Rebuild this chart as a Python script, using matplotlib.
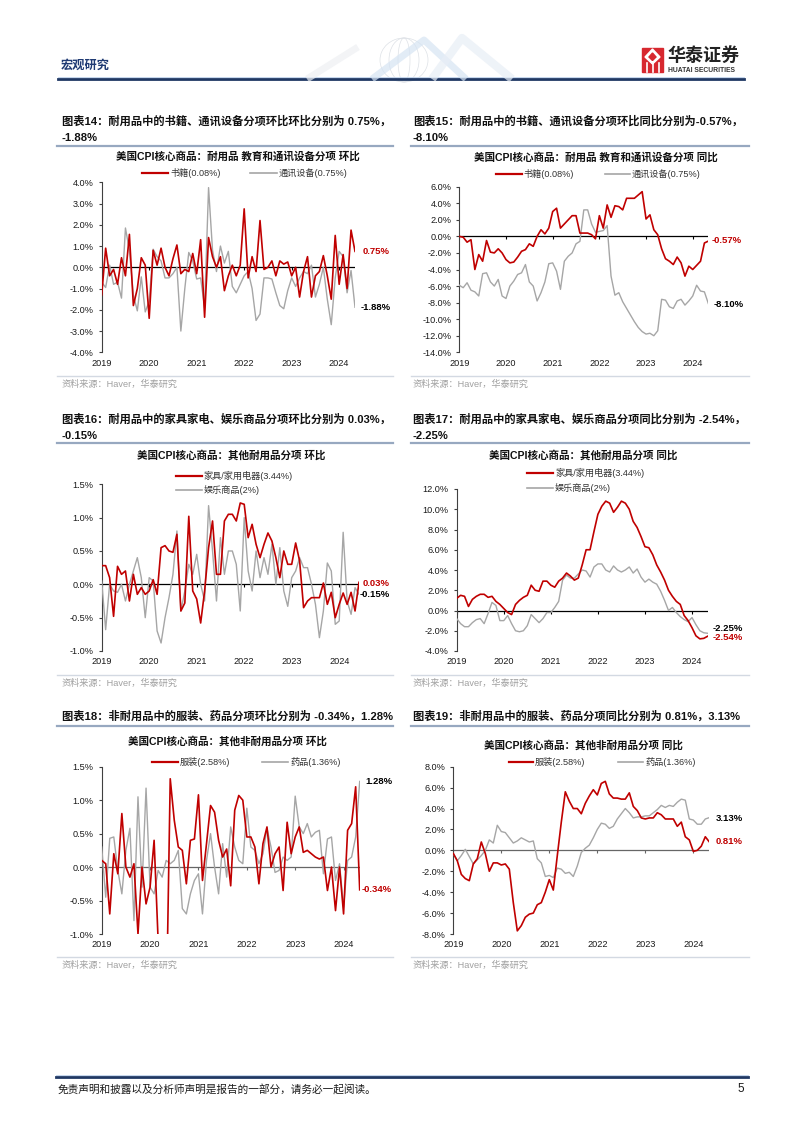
import numpy as np
import matplotlib.pyplot as plt
import matplotlib.transforms as mtransforms
from matplotlib.lines import Line2D
from matplotlib.patches import Rectangle, Polygon, Arc

# monthly readings from Jan 2019 onward, in percent
years = ['2019', '2020', '2021', '2022', '2023', '2024']

book_mom = [-1.3, 0.9, -0.4, -0.1, -0.8, 0.45, -0.4, 1.55, -1.8, -1.0, 0.45, 0.1,
            -2.4, 0.8, 0.1, 0.9, 0.0, -0.4, 0.4, 1.05, -0.3, -0.1, -0.2, 0.65,
            -0.3, 1.3, -2.35, 1.4, 0.5, 0.0, 0.5, -1.1, -0.4, 0.1, -0.4, 0.1,
            2.75, -0.5, 0.5, -0.2, 2.2, -0.1, 0.0, 0.3, -0.4, 0.3, 0.15, 0.25,
            -0.4, 0.0, -1.4, -0.2, 0.5, -1.4, -0.4, -0.2, 0.55, -0.4, -1.5, 1.5,
            -0.8, 0.6, -1.0, 1.75, 0.75]
comm_mom = [-0.7, -0.95, 0.1, -0.8, -0.7, -1.45, 1.85, 0.8, -1.3, -2.05, -0.45, -2.1,
            -1.6, 0.85, 0.5, 0.3, -0.5, -0.5, -0.3, 0.0, -3.0, -1.0, 0.7, 0.3,
            -0.55, -0.5, -1.9, 3.75, 0.8, -0.2, 1.0, 0.2, 0.75, -0.9, -1.2, -0.8,
            -0.4, -0.2, -1.0, -2.5, -2.2, -0.5, -0.5, -0.55, -1.2, -1.8, -1.95, -1.1,
            -0.5, -0.9, -0.5, -0.2, -0.3, 0.1, -1.4, -0.8, 0.0, -1.5, -2.7, -0.5,
            0.75, 0.5, -1.2, -0.15, -1.88]

book_yoy = [0.0, -0.1, -0.7, -0.4, -4.0, -2.2, -3.0, -0.5, -1.9, -2.0, -1.5, -2.0,
            -2.8, -3.2, -3.1, -2.5, -1.8, -1.6, -0.9, -1.2, 0.0, 0.8, 0.3, 1.0,
            3.0, 3.4, 1.0, 1.5, 2.0, 2.5, 2.5, 0.4, 0.4, 0.4, 0.2, -0.3,
            2.5, 1.0, 3.8, 2.3, 3.7, 3.6, 3.2, 4.6, 4.6, 4.6, 5.0, 5.4,
            2.1, 2.6, 0.8, 0.2, -1.5, -2.7, -3.0, -3.4, -2.5, -3.2, -4.8, -3.6,
            -4.0, -3.5, -3.0, -0.8, -0.57]
comm_yoy = [-5.9, -6.2, -5.6, -6.5, -6.7, -7.2, -4.5, -4.4, -5.5, -6.0, -5.2, -7.2,
            -7.5, -6.0, -5.4, -4.6, -4.4, -3.4, -5.5, -6.0, -7.8, -6.8, -5.5, -3.3,
            -3.2, -4.2, -6.4, -3.0, -2.4, -2.0, -0.9, -0.6, 3.2, 3.2, 1.5, 0.5,
            0.6, 0.7, 1.3, -4.8, -7.1, -6.8, -7.9, -8.7, -9.5, -10.3, -11.0, -11.5,
            -11.8, -11.7, -12.0, -11.4, -7.6, -7.7, -8.5, -8.7, -7.8, -7.6, -8.3, -7.8,
            -7.2, -5.9, -6.6, -6.7, -8.10]

furn_mom = [0.28, 0.28, 0.1, -0.48, 0.27, 0.15, 0.2, -0.25, 0.15, -0.15, -0.05, -0.15,
            -0.1, 0.07, -0.15, 0.55, 0.58, 0.5, 0.48, 0.75, -0.4, -0.28, 1.02, -0.1,
            -0.22, -0.58, -0.1, 0.55, 0.95, 0.15, 0.15, 0.95, 1.05, 1.05, 0.95, 1.22,
            1.2, 0.7, 0.9, 0.6, 0.4, 0.6, 0.77, 0.65, 0.4, 0.1, 0.5, 0.3,
            0.3, 0.62, 0.35, -0.35, -0.25, -0.2, -0.2, -0.2, 0.02, -0.3, -0.12, -0.5,
            -0.3, -0.13, -0.3, -0.12, -0.4, 0.03]
recr_mom = [0.05, -0.68, 0.0, -0.1, -0.12, 0.0, -0.25, 0.0, 0.2, 0.4, 0.1, -0.5,
            0.1, 0.05, -0.7, -0.88, -0.5, -0.2, 0.15, 0.8, -0.4, -0.1, 0.3, 0.15,
            0.45, 0.0, -0.25, 1.18, 0.5, -0.25, 0.7, 0.15, 0.5, 0.5, 0.3, -0.4,
            1.0, 0.2, -0.1, 0.5, 0.1, 0.4, 0.15, 0.6, 0.0, 0.55, -0.1, -0.33,
            0.1, 0.2, 0.4, 0.25, 0.25, 0.0, -0.3, -0.8, -0.4, 0.32, 0.2, -0.6,
            -0.55, 0.78, -0.25, -0.45, -0.05, -0.15]

furn_yoy = [1.2, 1.5, 1.4, 0.4, 1.1, 1.4, 1.6, 1.6, 1.3, 1.4, 0.9, 0.6,
            0.2, -0.2, -0.4, 0.6, 1.0, 1.3, 1.5, 2.5, 2.0, 1.9, 2.9, 2.9,
            2.5, 2.3, 2.9, 3.2, 3.7, 3.4, 3.0, 3.2, 4.5, 6.0, 6.0, 7.8,
            9.5, 10.3, 10.8, 10.6, 9.7, 10.2, 10.8, 10.6, 10.0, 8.8, 8.2, 7.3,
            6.3, 6.2, 5.5, 4.5, 3.8, 3.0, 2.0, 1.4, 0.9, 0.6, -0.5, -1.0,
            -1.7, -2.5, -2.8, -2.75, -2.54]
recr_yoy = [-0.8, -1.3, -1.6, -1.6, -1.2, -0.9, -0.8, -1.3, -0.3, 0.8, 0.5, -1.0,
            -1.0, -0.5, -1.3, -2.0, -2.1, -2.0, -1.5, -0.4, -0.8, -1.2, -0.8, -0.2,
            -0.2, 0.3, 0.9, 3.0, 3.5, 3.2, 3.2, 3.6, 4.0, 3.9, 3.3, 4.3,
            4.6, 4.6, 4.0, 3.8, 4.4, 4.0, 3.8, 4.0, 4.3, 3.7, 4.1, 3.3,
            2.8, 3.1, 2.8, 2.6, 1.9, 1.0, 0.0, 0.3, -0.2, -0.6, -0.9, -1.1,
            -0.7, -1.4, -2.0, -2.2, -2.25]

appa_mom = [0.1, 0.05, -0.7, 0.2, -0.1, 0.8, 0.0, -0.15, 0.05, -1.0, 0.0, -0.55,
            -0.3, 0.4, -1.1, -4.7, -2.3, 1.32, 0.7, 0.3, 0.25, -0.25, 0.4, 0.42,
            1.08, -0.2, 0.35, 0.92, 0.82, 0.4, 0.15, 0.27, -0.28, 0.85, 1.07, 1.0,
            0.45, 0.45, 0.3, -0.25, 0.35, 0.6, 0.0, 0.2, 0.3, -0.35, 0.67, 0.2,
            0.45, 0.6, 0.22, 0.25, 0.2, 0.15, 0.12, 0.15, -0.35, 0.0, -0.65, 0.0,
            -0.7, 0.55, 0.65, 1.2, -0.34]
drug_mom = [0.3, -0.45, 0.43, 0.45, -0.05, -0.4, 0.25, 0.58, -0.8, 1.05, -0.3, 1.18,
            -0.3, -0.4, -0.05, -0.15, 0.1, 0.05, 0.1, 0.25, -0.62, -0.7, -0.4, -0.2,
            -0.1, -0.7, 0.1, 0.5, 0.0, -0.4, 0.35, -0.15, 0.6, 0.3, 0.1, 0.05,
            0.88, 0.3, 0.25, 0.05, 0.2, 0.58, 0.3, -0.08, -0.05, 0.15, 0.1, 0.15,
            1.06, 0.6, 0.5, 0.65, 0.45, 0.52, 0.55, -0.1, 0.42, 0.45, -0.2, 0.05,
            -0.6, 0.1, 0.15, 0.45, 1.28]

appa_yoy = [-0.3, -1.0, -2.3, -2.7, -2.9, -1.3, -0.8, 0.8, -0.3, -2.0, -1.2, -1.2,
            -1.4, -1.3, -1.8, -5.0, -7.7, -7.2, -6.4, -6.1, -6.0, -5.2, -5.0, -4.0,
            -2.8, -3.8, -0.5, 2.7, 5.6, 4.7, 4.0, 4.0, 3.5, 4.5, 5.2, 5.8,
            5.3, 6.4, 6.6, 5.4, 5.0, 5.0, 4.9, 4.9, 5.5, 4.2, 3.8, 3.1,
            3.0, 3.1, 3.1, 3.6, 3.4, 3.0, 3.0, 3.0, 2.3, 2.7, 1.3, 1.0,
            -0.1, 0.0, 0.4, 1.3, 0.81]
drug_yoy = [-0.3, -1.0, -0.5, 0.1, -0.6, -1.3, -0.9, -0.5, 0.0, 1.0, 0.7, 2.4,
            1.8, 1.7, 1.2, 0.7, 0.9, 1.2, 1.0, 0.8, 0.9, -0.8, -1.2, -2.5,
            -2.4, -2.6, -1.7, -1.8, -2.2, -2.1, -2.5, -1.5, -0.2, 0.2, 0.5, 1.2,
            2.0, 2.6, 2.5, 2.1, 2.3, 3.0, 3.5, 4.0, 3.6, 3.1, 3.2, 3.2,
            3.3, 3.3, 3.6, 3.9, 4.3, 4.1, 4.3, 4.2, 4.6, 4.9, 4.8, 3.0,
            2.9, 2.5, 2.5, 3.0, 3.13]

W, H = 802, 1133
RED = '#c00000'
GRAY = '#a6a6a6'
NAVY = '#1f3864'
FONT = ['Liberation Sans', 'Noto Sans CJK SC']

plt.rcParams['font.family'] = FONT

fig = plt.figure(figsize=(W / 100, H / 100), dpi=100)


def fx(x):
    return x / W


def fy(y):
    return 1 - y / H


def hline(x0, x1, y, color, lw):
    fig.add_artist(Line2D([fx(x0), fx(x1)], [fy(y), fy(y)], color=color, lw=lw))


def text(x, y, s, size, **kw):
    fig.text(fx(x), fy(y), s, fontsize=size, va='center', **kw)


def chart(box, ylim, step, red, gray, zero_color='black'):
    left, right, top, bottom = box
    ax = fig.add_axes([fx(left), fy(bottom), (right - left) / W, (bottom - top) / H])
    x = np.arange(len(red))
    ax.plot(x, gray, color=GRAY, lw=1.0, zorder=3)
    ax.plot(x, red, color=RED, lw=1.2, zorder=4)
    ax.axhline(0, color=zero_color, lw=0.9, zorder=2)
    pos = np.arange(len(years)) * 12
    ax.plot(pos, np.zeros(len(pos)), ls='none', marker=3, ms=2.5, mew=0.8,
            color=zero_color, zorder=2)
    ax.set_xlim(0, len(red) - 1)
    ax.set_ylim(ylim)
    ax.set_xticks(pos, years)
    yt = np.arange(ylim[0], ylim[1] + step / 2, step) + 0.0
    ax.set_yticks(yt, [f'{v:.1f}%' for v in yt])
    for s in ['top', 'right', 'bottom']:
        ax.spines[s].set_visible(False)
    ax.spines['left'].set_color('#404040')
    ax.spines['left'].set_linewidth(0.8)
    ax.tick_params(axis='x', length=0, pad=4.6, labelsize=6.6, labelcolor='#1a1a1a')
    ax.tick_params(axis='y', length=2.5, width=0.8, pad=3.2, color='#404040',
                   labelsize=6.6, labelcolor='#1a1a1a')
    ax.patch.set_alpha(0)
    return ax


def end_label(ax, x, y, s, color):
    tr = mtransforms.blended_transform_factory(fig.transFigure, ax.transData)
    ax.text(fx(x), y, s, transform=tr, color=color, fontsize=6.8,
            fontweight='bold', va='center', clip_on=False)


def legend_item(x0, x1, y, color, lw, s):
    hline(x0, x1, y, color, lw)
    text(x1 + 2, y, s, 6.6, color='#333333')


def fig_title(x, y, lines, sep_y, sep_x):
    for i, s in enumerate(lines):
        text(x, y + i * 17, s, 8.1, fontweight='bold', color='#111111')
    hline(sep_x[0], sep_x[1], sep_y, '#97a8c0', 1.6)


def source(x, y, sep_x):
    hline(sep_x[0], sep_x[1], y - 8, '#d3d9e2', 1.0)
    text(x, y, '资料来源：Haver，华泰研究', 6.6, color='#a0a0a0')


# ---- page header ----
text(61, 66, '宏观研究', 8.8, fontweight='bold', color='#1f3a73')
hline(58, 744, 78.5, NAVY, 2.0)
hline(58, 744, 76.5, '#bcd0ea', 0.6)
for pts, col, lw in [([(307, 79), (358, 47)], '#eef0f3', 5),
                     ([(372, 79), (424, 40), (466, 79)], '#d6e4f3', 5),
                     ([(432, 79), (462, 38), (512, 79)], '#e8eef6', 6)]:
    xs, ys = zip(*pts)
    fig.add_artist(Line2D([fx(v) for v in xs], [fy(v) for v in ys], color=col, lw=lw,
                          solid_capstyle='butt', alpha=0.7))
for w in [48, 30, 12]:
    fig.add_artist(Arc((fx(404), fy(60)), w / W, 44 / H, theta1=0, theta2=360,
                       color='#dde1e6', lw=0.5))
fig.add_artist(Rectangle((fx(642), fy(72)), 21 / W, 24 / H, color='#d7282f'))
fig.add_artist(Polygon([(fx(652.5), fy(49)), (fx(660), fy(57)), (fx(652.5), fy(64)),
                        (fx(645), fy(57))], color='white'))
fig.add_artist(Polygon([(fx(652.5), fy(53)), (fx(656), fy(57)), (fx(652.5), fy(60.5)),
                        (fx(649), fy(57))], color='#d7282f'))
for xv in [646.5, 652.5, 658.5]:
    fig.add_artist(Line2D([fx(xv), fx(xv)], [fy(63), fy(71.5)], color='white', lw=1.2))
text(668, 56, '华泰证券', 13, fontweight='bold', color='#222222')
text(668, 70.5, 'HUATAI SECURITIES', 4.9, fontweight='bold', color='#333333')

# ---- chart 14 ----
fig_title(61.7, 121, ['图表14：耐用品中的书籍、通讯设备分项环比环比分别为 0.75%，', '-1.88%'],
          146, (57, 393))
text(237.5, 156.5, '美国CPI核心商品：耐用品 教育和通讯设备分项 环比', 7.6,
     ha='center', fontweight='bold', color='#111111')
legend_item(141.7, 168, 173, RED, 1.6, '书籍(0.08%)')
legend_item(250, 276.7, 173, GRAY, 1.2, '通讯设备(0.75%)')
ax = chart((101.7, 355, 182.3, 352.3), (-4, 4), 1, book_mom, comm_mom)
end_label(ax, 363, 0.75, '0.75%', RED)
end_label(ax, 360.7, -1.9, '-1.88%', 'black')
source(61.7, 384, (57, 393))

# ---- chart 15 ----
fig_title(413, 121, ['图表15：耐用品中的书籍、通讯设备分项环比同比分别为-0.57%，', '-8.10%'],
          146, (411, 749))
text(595.8, 157, '美国CPI核心商品：耐用品 教育和通讯设备分项 同比', 7.6,
     ha='center', fontweight='bold', color='#111111')
legend_item(496, 521.7, 174.3, RED, 1.6, '书籍(0.08%)')
legend_item(605, 630, 174.3, GRAY, 1.2, '通讯设备(0.75%)')
ax = chart((459.3, 708.3, 186.7, 352.3), (-14, 6), 2, book_yoy, comm_yoy)
end_label(ax, 712, -0.52, '-0.57%', RED)
end_label(ax, 714, -8.17, '-8.10%', 'black')
source(412.7, 384, (411, 749))

# ---- chart 16 ----
fig_title(61.7, 419, ['图表16：耐用品中的家具家电、娱乐商品分项环比分别为 0.03%，', '-0.15%'],
          443, (57, 393))
text(230.8, 455, '美国CPI核心商品：其他耐用品分项 环比', 7.6,
     ha='center', fontweight='bold', color='#111111')
legend_item(176, 201.7, 475.7, RED, 1.6, '家具/家用电器(3.44%)')
legend_item(176, 201.7, 490, GRAY, 1.2, '娱乐商品(2%)')
ax = chart((101.7, 359, 484.3, 651), (-1, 1.5), 0.5, furn_mom, recr_mom)
end_label(ax, 363, 0.015, '0.03%', RED)
end_label(ax, 360, -0.15, '-0.15%', 'black')
source(61.7, 683, (57, 393))

# ---- chart 17 ----
fig_title(413, 419, ['图表17：耐用品中的家具家电、娱乐商品分项同比分别为 -2.54%，', '-2.25%'],
          443, (411, 749))
text(583.3, 455, '美国CPI核心商品：其他耐用品分项 同比', 7.6,
     ha='center', fontweight='bold', color='#111111')
legend_item(527, 553, 473, RED, 1.6, '家具/家用电器(3.44%)')
legend_item(527, 553, 488, GRAY, 1.2, '娱乐商品(2%)')
ax = chart((456.7, 707.7, 489, 651), (-4, 12), 2, furn_yoy, recr_yoy)
end_label(ax, 713, -1.78, '-2.25%', 'black')
end_label(ax, 713, -2.66, '-2.54%', RED)
source(412.7, 683, (411, 749))

# ---- chart 18 ----
fig_title(61.7, 716, ['图表18：非耐用品中的服装、药品分项环比分别为 -0.34%，1.28%'],
          726, (57, 393))
text(227.3, 741, '美国CPI核心商品：其他非耐用品分项 环比', 7.6,
     ha='center', fontweight='bold', color='#111111')
legend_item(151.7, 178, 761.7, RED, 1.6, '服装(2.58%)')
legend_item(261.7, 288, 761.7, GRAY, 1.2, '药品(1.36%)')
ax = chart((101.7, 359.7, 766.7, 934), (-1, 1.5), 0.5, appa_mom, drug_mom, '#666666')
end_label(ax, 365, 1.275, '1.28%', 'black')
end_label(ax, 362, -0.34, '-0.34%', RED)
source(61.7, 965, (57, 393))

# ---- chart 19 ----
fig_title(413, 716, ['图表19：非耐用品中的服装、药品分项同比分别为 0.81%，3.13%'],
          726, (411, 749))
text(583.3, 745, '美国CPI核心商品：其他非耐用品分项 同比', 7.6,
     ha='center', fontweight='bold', color='#111111')
legend_item(509, 533, 761.7, RED, 1.6, '服装(2.58%)')
legend_item(618, 643, 761.7, GRAY, 1.2, '药品(1.36%)')
ax = chart((453.3, 709.3, 766.7, 934), (-8, 8), 2, appa_yoy, drug_yoy, '#666666')
end_label(ax, 716, 3.06, '3.13%', 'black')
end_label(ax, 716, 0.83, '0.81%', RED)
source(412.7, 965, (411, 749))

# ---- footer ----
hline(56, 748, 1077, NAVY, 2.0)
hline(56, 748, 1075, '#bcd0ea', 0.6)
text(58, 1089, '免责声明和披露以及分析师声明是报告的一部分，请务必一起阅读。', 7.7, color='#1a1a1a')
text(737, 1089, '5', 8.5, color='#1a1a1a')

fig.savefig('out.png', dpi=100)
